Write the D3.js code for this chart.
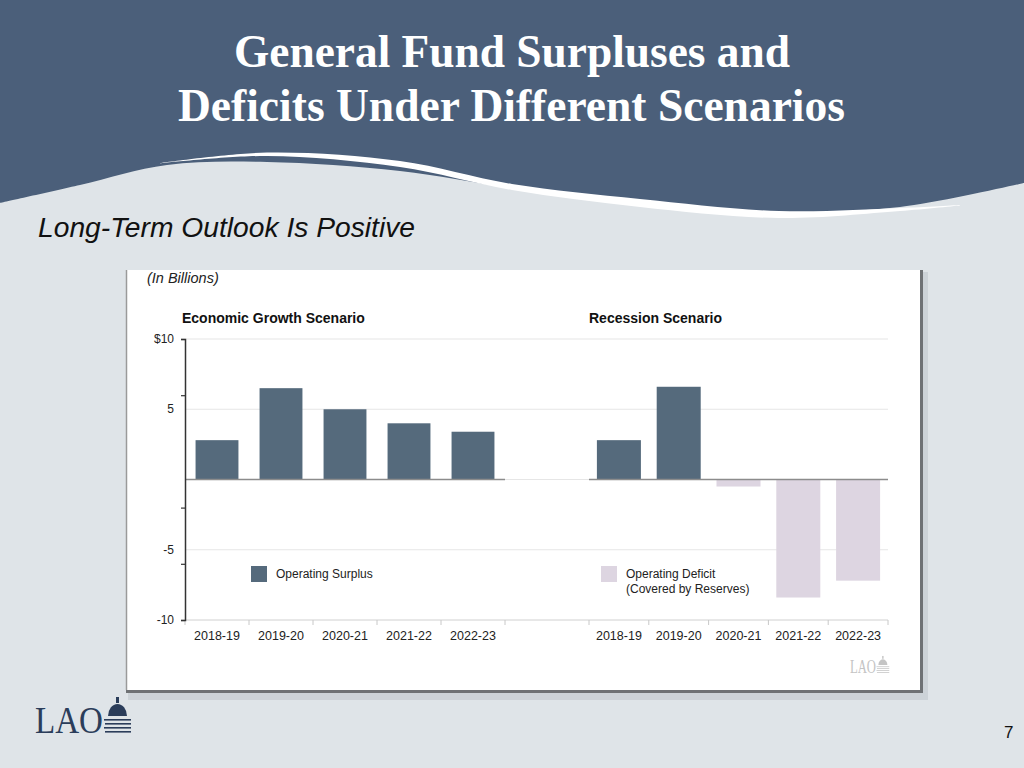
<!DOCTYPE html>
<html lang="en">
<head>
<meta charset="UTF-8">
<title>General Fund Surpluses and Deficits</title>
<style>
  body { margin: 0; background: #dfe4e8; }
  svg { display: block; }
</style>
</head>
<body>
<div id="slide"></div>
<script src="https://cdn.jsdelivr.net/npm/d3@7"></script>
<script>
var years = ["2018-19", "2019-20", "2020-21", "2021-22", "2022-23"];
var growth = [2.8, 6.5, 5.0, 4.0, 3.4];
var recession = [2.8, 6.6, -0.5, -8.4, -7.2];
var yLabelValues = [10, 5, -5, -10];
var yTickValues = [10, 6, -2, -6, -10];
var gridValues = [10, 5, 0, -5];

var W = 1024, H = 768;
var dark = "#4b5f7a", light = "#dfe4e8";
var surplusColor = "#556a7c", deficitColor = "#ddd5e1";

var svg = d3.select("#slide").append("svg")
    .attr("width", W)
    .attr("height", H);

// header band with wave
svg.append("rect").attr("width", W).attr("height", 240).attr("fill", dark);

var curve = d3.line().curve(d3.curveCatmullRom);
var edge = [[0,203],[80,185],[167,165],[267,162],[400,171],[512,188],[640,203],[779,212],[900,207],[1024,183]];
svg.append("path")
    .attr("d", curve(edge) + "L1024,768L0,768Z")
    .attr("fill", light);

var swUp = [[160,163],[267,152.5],[400,161],[512,184],[640,199],[779,211],[900,208],[960,205]];
var swLo = [[960,205.5],[900,211],[779,218],[640,207],[512,190],[400,167],[267,156],[160,163.5]];
svg.append("path")
    .attr("d", curve(swUp) + "L" + curve(swLo).slice(1) + "Z")
    .attr("fill", "#ffffff");

svg.append("text")
    .attr("x", 234).attr("y", 67)
    .attr("textLength", 556).attr("lengthAdjust", "spacingAndGlyphs")
    .attr("font-family", "Liberation Serif, Times New Roman, serif")
    .attr("font-weight", "bold").attr("font-size", 47)
    .attr("fill", "#ffffff")
    .text("General Fund Surpluses and");
svg.append("text")
    .attr("x", 178).attr("y", 121)
    .attr("textLength", 667).attr("lengthAdjust", "spacingAndGlyphs")
    .attr("font-family", "Liberation Serif, Times New Roman, serif")
    .attr("font-weight", "bold").attr("font-size", 47)
    .attr("fill", "#ffffff")
    .text("Deficits Under Different Scenarios");

svg.append("text")
    .attr("x", 38).attr("y", 237)
    .attr("textLength", 377).attr("lengthAdjust", "spacingAndGlyphs")
    .attr("font-family", "Liberation Sans, Arial, sans-serif")
    .attr("font-style", "italic").attr("font-size", 27)
    .attr("fill", "#111")
    .text("Long-Term Outlook Is Positive");

// chart panel
svg.append("rect").attr("x", 128).attr("y", 272).attr("width", 800).attr("height", 428).attr("fill", "#cdd3d8");
svg.append("rect").attr("x", 126).attr("y", 270).attr("width", 797).attr("height", 423).attr("fill", "#6f7275");
svg.append("rect").attr("x", 126).attr("y", 270).attr("width", 794).attr("height", 420).attr("fill", "#ffffff");
svg.append("line").attr("x1", 126.5).attr("x2", 126.5).attr("y1", 270).attr("y2", 690)
    .attr("stroke", "#9a9a9a").attr("stroke-width", 1.5);

var sans = "Liberation Sans, Arial, Helvetica, sans-serif";

svg.append("text").attr("x", 147).attr("y", 283)
    .attr("font-family", sans).attr("font-style", "italic").attr("font-size", 14.5)
    .attr("fill", "#222").text("(In Billions)");

var y = d3.scaleLinear().domain([-10, 10]).range([620, 339]);
var xL = d3.scaleBand().domain(years).range([185, 505]).paddingInner(0.33).paddingOuter(0.165);
var xR = d3.scaleBand().domain(years).range([589, 888]).paddingInner(0.264).paddingOuter(0.132);

// gridlines
svg.append("g").selectAll("line").data(gridValues).enter().append("line")
    .attr("x1", 185).attr("x2", 888)
    .attr("y1", function(d) { return y(d); })
    .attr("y2", function(d) { return y(d); })
    .attr("stroke", "#e6e6e6").attr("stroke-width", 1.2);

// bottom category line with separators
svg.append("line").attr("x1", 185).attr("x2", 888).attr("y1", y(-10)).attr("y2", y(-10))
    .attr("stroke", "#d0d0d0").attr("stroke-width", 1);

function panel(x, values, title) {
    var g = svg.append("g");
    var edges = d3.range(years.length + 1).map(function(i) { return x.range()[0] + i * x.step(); });
    g.selectAll(".sep").data(edges).enter().append("line")
        .attr("x1", function(d) { return d; }).attr("x2", function(d) { return d; })
        .attr("y1", y(-10)).attr("y2", y(-10) + 5)
        .attr("stroke", "#c8c8c8").attr("stroke-width", 1);

    g.selectAll(".bar").data(values).enter().append("rect")
        .attr("x", function(d, i) { return x(years[i]); })
        .attr("width", x.bandwidth())
        .attr("y", function(d) { return y(Math.max(0, d)); })
        .attr("height", function(d) { return Math.abs(y(d) - y(0)); })
        .attr("fill", function(d) { return d >= 0 ? surplusColor : deficitColor; });

    g.append("line").attr("x1", x.range()[0]).attr("x2", x.range()[1])
        .attr("y1", y(0)).attr("y2", y(0))
        .attr("stroke", "#8c8c8c").attr("stroke-width", 1.5);

    var ax = g.append("g").attr("transform", "translate(0," + (y(-10) + 11) + ")")
        .call(d3.axisBottom(x).tickSize(0).tickPadding(0));
    ax.select(".domain").remove();
    ax.selectAll("text").attr("font-family", sans).attr("font-size", 12.5).attr("fill", "#222");

    g.append("text").attr("x", title.x).attr("y", 323)
        .attr("font-family", sans).attr("font-weight", "bold").attr("font-size", 14)
        .attr("fill", "#111").text(title.text);
}
panel(xL, growth, { x: 182, text: "Economic Growth Scenario" });
panel(xR, recession, { x: 589, text: "Recession Scenario" });

// y axis
var yAxis = svg.append("g").attr("transform", "translate(185,0)")
    .call(d3.axisLeft(y).tickValues(yTickValues).tickSize(4).tickFormat(""));
yAxis.select(".domain").attr("stroke", "#333").attr("stroke-width", 1.5);
yAxis.selectAll(".tick line").attr("stroke", "#333").attr("stroke-width", 1.2);

svg.append("g").selectAll("text").data(yLabelValues).enter().append("text")
    .attr("x", 174).attr("y", function(d) { return y(d); })
    .attr("dy", "0.35em").attr("text-anchor", "end")
    .attr("font-family", sans).attr("font-size", 12).attr("fill", "#222")
    .text(function(d) { return d === 10 ? "$10" : d; });

// legends
var legends = [
    { x: 251, color: surplusColor, lines: ["Operating Surplus"] },
    { x: 601, color: deficitColor, lines: ["Operating Deficit", "(Covered by Reserves)"] }
];
legends.forEach(function(l) {
    svg.append("rect").attr("x", l.x).attr("y", 566).attr("width", 16).attr("height", 16).attr("fill", l.color);
    l.lines.forEach(function(t, i) {
        svg.append("text").attr("x", l.x + 25).attr("y", 578 + i * 15)
            .attr("font-family", sans).attr("font-size", 12).attr("fill", "#222").text(t);
    });
});

// logos
function lao(xp, yp, size, len, color) {
    var g = svg.append("g").attr("fill", color);
    g.append("text").attr("x", xp).attr("y", yp)
        .attr("textLength", len).attr("lengthAdjust", "spacingAndGlyphs")
        .attr("font-family", "Liberation Serif, Times New Roman, serif")
        .attr("font-size", size).text("LAO");
    var s = size / 38, dx = xp + len + 1 * s, top = yp - 36 * s;
    g.append("rect").attr("x", dx + 12 * s).attr("y", top).attr("width", 3 * s).attr("height", 6 * s);
    g.append("path")
        .attr("d", "M" + (dx + 4 * s) + "," + (top + 19 * s) +
              " A" + (9.5 * s) + "," + (12 * s) + " 0 0 1 " + (dx + 23 * s) + "," + (top + 19 * s) + " Z");
    [22, 26, 30, 34].forEach(function(o, i) {
        g.append("rect").attr("x", dx + (i % 2 ? 1 : 0) * s).attr("y", top + o * s)
            .attr("width", (27 - (i % 2 ? 1 : 0)) * s).attr("height", 1.6 * s);
    });
}
lao(35, 733, 38, 68, "#2b3d5a");
lao(850, 673, 18, 26, "#c4c4c4");

svg.append("text").attr("x", 1004).attr("y", 738)
    .attr("font-family", sans).attr("font-size", 17).attr("fill", "#111").text("7");
</script>
</body>
</html>
